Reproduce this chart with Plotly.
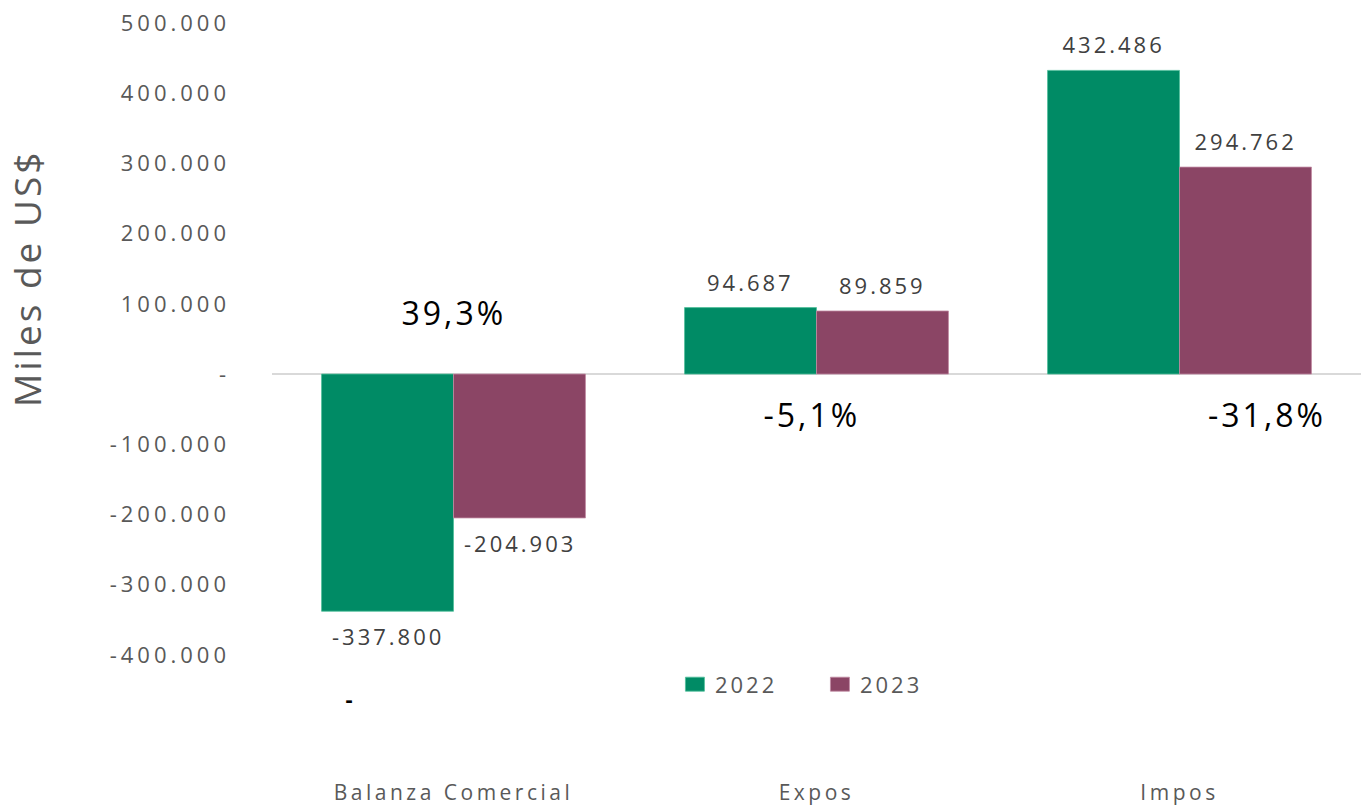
import plotly.graph_objects as go

categories = ["Balanza Comercial", "Expos", "Impos"]
series_names = ["2022", "2023"]
values_2022 = [-337800, 94687, 432486]
values_2023 = [-204903, 89859, 294762]
pct_labels = ["39,3%", "-5,1%", "-31,8%"]
tick_vals = [500000, 400000, 300000, 200000, 100000, 0, -100000, -200000, -300000, -400000]
tick_text = ["500.000", "400.000", "300.000", "200.000", "100.000", "-",
             "-100.000", "-200.000", "-300.000", "-400.000"]

GREEN = "#008B65"
PURPLE = "#8B4565"
FONT = "Open Sans"


def fmt(v):
    return f"{v:,}".replace(",", ".")


fig = go.Figure()
fig.add_trace(go.Bar(x=categories, y=values_2022, name=series_names[0],
                     marker=dict(color=GREEN, line=dict(color="#4fbf9a", width=0.8))))
fig.add_trace(go.Bar(x=categories, y=values_2023, name=series_names[1],
                     marker=dict(color=PURPLE, line=dict(color="#c08aa2", width=0.8))))

annotations = []
half = 66
for cat, v in zip(categories, values_2022):
    annotations.append(dict(x=cat, y=v, xref="x", yref="y", text=fmt(v), showarrow=False,
                            xshift=-half, yshift=26 if v > 0 else -25, yanchor="middle",
                            font=dict(family=FONT, size=22, color="#404040")))
for cat, v in zip(categories, values_2023):
    annotations.append(dict(x=cat, y=v, xref="x", yref="y", text=fmt(v), showarrow=False,
                            xshift=half, yshift=26 if v > 0 else -25, yanchor="middle",
                            font=dict(family=FONT, size=22, color="#404040")))

# percentage change labels
pct_pos = [(0, 88000), (-5, -58000), (87, -58000)]
for cat, lab, (dx, yy) in zip(categories, pct_labels, pct_pos):
    annotations.append(dict(x=cat, y=yy, xref="x", yref="y", text=lab, showarrow=False,
                            xshift=dx, yanchor="middle",
                            font=dict(family=FONT, size=32, color="#000000")))
annotations.append(dict(x=categories[0], y=-462000, xref="x", yref="y", text="<b>-</b>",
                        showarrow=False, xshift=-103, yanchor="middle",
                        font=dict(family=FONT, size=22, color="#000000")))

# y-axis title
annotations.append(dict(x=-0.226, y=0.662, xref="paper", yref="paper", text="Miles de US$",
                        textangle=-90, showarrow=False, xanchor="center", yanchor="middle",
                        font=dict(family=FONT, size=37, color="#595959")))

fig.update_layout(
    width=1361, height=806, autosize=False,
    margin=dict(l=272, r=0, t=23, b=26),
    paper_bgcolor="white", plot_bgcolor="white",
    barmode="group", bargap=0.273, bargroupgap=0,
    font=dict(family=FONT, color="#595959"),
    showlegend=True,
    legend=dict(orientation="h", x=0.37, y=0.124, xanchor="left", yanchor="middle",
                font=dict(family=FONT, size=22, color="#595959"),
                entrywidth=100, entrywidthmode="pixels", bgcolor="rgba(0,0,0,0)"),
    annotations=annotations,
)
fig.update_xaxes(showgrid=False, showline=False, ticks="", zeroline=False,
                 tickfont=dict(family=FONT, size=21, color="#595959"))
fig.update_yaxes(range=[-575300, 500000], tickvals=tick_vals, ticktext=tick_text,
                 showgrid=False, showline=False, ticks="",
                 zeroline=True, zerolinecolor="#d9d9d9", zerolinewidth=1.5,
                 ticklabelstandoff=41,
                 tickfont=dict(family=FONT, size=22, color="#595959"))

post_script = """
document.body.style.margin = '0';
var gd = document.getElementById('{plot_id}');
function ls(sel, v){ gd.querySelectorAll(sel).forEach(function(t){ t.style.letterSpacing = v; }); }
ls('.ytick text', '4px');
ls('.xtick text', '3.5px');
ls('.annotation-text', '3px');
ls('.legendtext', '3px');
gd.querySelectorAll('.legendpoints path').forEach(function(p){ p.setAttribute('d', 'M9.5,7H-9.5V-7H9.5Z'); });
"""
fig.write_html("out.html", config={"displayModeBar": False}, post_script=post_script)
